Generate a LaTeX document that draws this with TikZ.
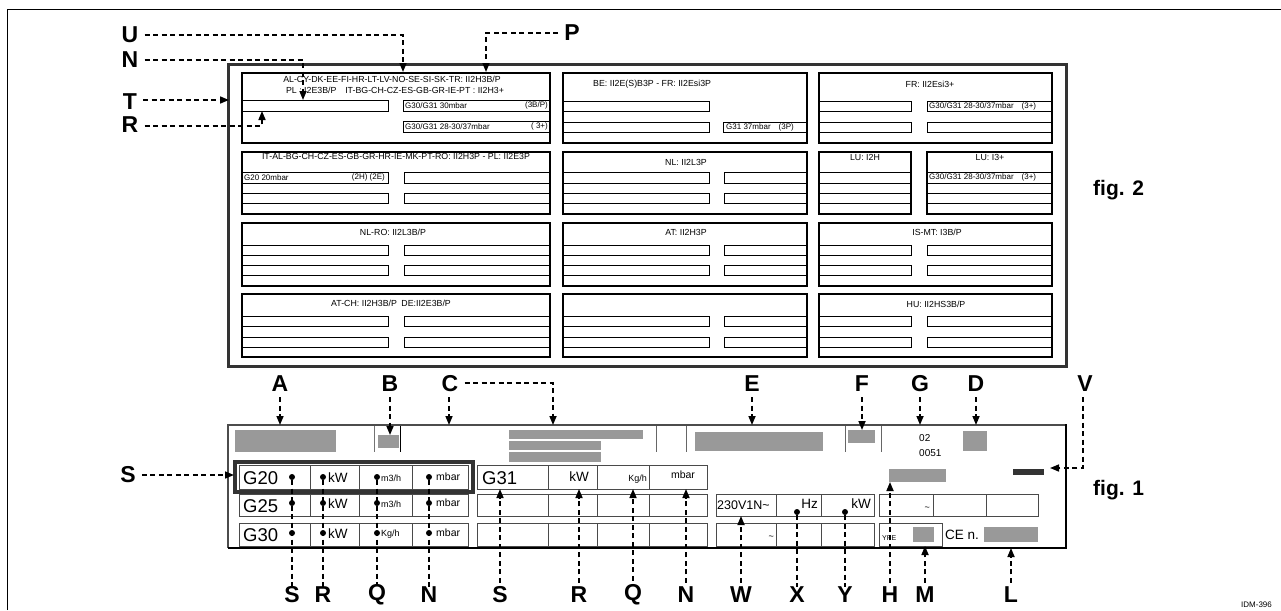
\documentclass[tikz,border=0pt]{standalone}
\usepackage{fontspec}
\setmainfont{Liberation Sans}
\usetikzlibrary{arrows.meta}
\definecolor{fillgray}{HTML}{999999}
\definecolor{framegray}{HTML}{333333}
\definecolor{cellgray}{HTML}{4A4A4A}
\tikzset{
  lbl/.style={font=\bfseries\fontsize{23}{23}\selectfont, inner sep=0pt},
  figlbl/.style={font=\bfseries\fontsize{21}{21}\selectfont, inner sep=0pt, anchor=west},
  dsh/.style={line width=1.6pt, dash pattern=on 5pt off 3.5pt},
  arr/.style={dsh, -{Triangle[length=9pt,width=7pt]}},
  bx/.style={line width=2.3pt},
  rl/.style={line width=1pt},
  cl/.style={line width=0.9pt, draw=cellgray},
  hdr/.style={font=\fontsize{8.8}{9}\selectfont, inner sep=0pt},
  small/.style={font=\fontsize{8}{9}\selectfont, inner sep=0pt},
  big/.style={font=\fontsize{18.5}{18.5}\selectfont, inner sep=0pt, anchor=west},
  mid/.style={font=\fontsize{13.5}{13.5}\selectfont, inner sep=0pt},
  tiny/.style={font=\fontsize{9}{9}\selectfont, inner sep=0pt},
  gbar/.style={fill=fillgray, draw=none},
  dot/.style={circle, fill=black, inner sep=0pt, minimum size=6pt},
}
\newcommand\lrect[4]{\draw[rl] (#1,#3) -| (#2,#4) -- (#1,#4);}
\newcommand\rrect[4]{\draw[rl] (#2,#3) -| (#1,#4) -- (#2,#4);}
\newcommand\frow[4]{\draw[rl] (#1,#3) -- (#2,#3) (#1,#4) -- (#2,#4);}
\begin{document}
\begin{tikzpicture}[x=1pt,y=-1pt]
\useasboundingbox (0,0) rectangle (1281,610);
% page frame
\draw[line width=1pt] (7,610) -- (7,10) -- (1281,10);

% ================= fig. 2 =================
\draw[line width=3pt, draw=framegray] (228,64) rectangle (1066,366);
% row 1
\draw[bx] (242,73) rectangle (550,143);
\draw[bx] (563,73) rectangle (807,143);
\draw[bx] (819,73) rectangle (1052,143);
\lrect{242}{388}{100}{111} \rrect{403}{550}{100}{111} \rrect{403}{550}{121}{132}
\lrect{563}{709}{101}{111} \lrect{563}{709}{122}{132} \rrect{723}{807}{122}{132}
\lrect{819}{911}{101}{111} \rrect{927}{1052}{101}{111} \lrect{819}{911}{122}{132} \rrect{927}{1052}{122}{132}
\node[hdr] (h11a) at (392,79) {AL-CY-DK-EE-FI-HR-LT-LV-NO-SE-SI-SK-TR: II2H3B/P};
\node[hdr] (h11b) at (395,90) {PL : I2E3B/P\quad IT-BG-CH-CZ-ES-GB-GR-IE-PT : II2H3+};
\node[small, anchor=west] (t11a) at (405,105.5) {G30/G31 30mbar};
\node[small, anchor=east] (t11b) at (548,105.5) {(3B/P)};
\node[small, anchor=west] (t11c) at (405,126.5) {G30/G31 28-30/37mbar};
\node[small, anchor=east] (t11d) at (548,126.5) {( 3+)};
\node[hdr, anchor=west] (h12) at (593,84) {BE: II2E(S)B3P - FR: II2Esi3P};
\node[small, anchor=west] (t12a) at (726,127) {G31 37mbar\quad (3P)};
\node[hdr] (h13) at (930,84) {FR: II2Esi3+};
\node[small, anchor=west] (t13a) at (929,106) {G30/G31 28-30/37mbar\quad (3+)};
% row 2
\draw[bx] (242,152) rectangle (550,214);
\draw[bx] (563,152) rectangle (807,214);
\draw[bx] (819,152) rectangle (911,214);
\draw[bx] (927,152) rectangle (1052,214);
\lrect{242}{388}{172}{183} \rrect{404}{550}{172}{183} \lrect{242}{388}{193}{203} \rrect{404}{550}{193}{203}
\lrect{563}{709}{172}{183} \rrect{724}{807}{172}{183} \lrect{563}{709}{193}{203} \rrect{724}{807}{193}{203}
\frow{819}{911}{172}{183} \frow{819}{911}{193}{203}
\frow{927}{1052}{172}{183} \frow{927}{1052}{193}{203}
\node[hdr] (h21) at (396,156.5) {IT-AL-BG-CH-CZ-ES-GB-GR-HR-IE-MK-PT-RO: II2H3P - PL: II2E3P};
\node[small, anchor=west] (t21a) at (244,177.5) {G20 20mbar};
\node[small, anchor=east] (t21b) at (385,177.5) {(2H) (2E)};
\node[hdr] (h22) at (686,162) {NL: II2L3P};
\node[hdr] (h23a) at (865,157.5) {LU: I2H};
\node[hdr] (h23b) at (990,157.5) {LU: I3+};
\node[small, anchor=west] (t23b) at (929,177.5) {G30/G31 28-30/37mbar\quad (3+)};
% row 3
\draw[bx] (242,223) rectangle (550,286);
\draw[bx] (563,223) rectangle (807,286);
\draw[bx] (819,223) rectangle (1052,286);
\foreach \a/\b in {245/255,265/275}{
  \lrect{242}{388}{\a}{\b} \rrect{404}{550}{\a}{\b}
  \lrect{563}{709}{\a}{\b} \rrect{724}{807}{\a}{\b}
  \lrect{819}{911}{\a}{\b} \rrect{927}{1052}{\a}{\b}}
\node[hdr] (h31) at (393,232) {NL-RO: II2L3B/P};
\node[hdr] (h32) at (686,232) {AT: II2H3P};
\node[hdr] (h33) at (937,232) {IS-MT: I3B/P};
% row 4
\draw[bx] (242,294) rectangle (550,357);
\draw[bx] (563,294) rectangle (807,357);
\draw[bx] (819,294) rectangle (1052,357);
\foreach \a/\b in {316/326,337/347}{
  \lrect{242}{388}{\a}{\b} \rrect{404}{550}{\a}{\b}
  \lrect{563}{709}{\a}{\b} \rrect{724}{807}{\a}{\b}
  \lrect{819}{911}{\a}{\b} \rrect{927}{1052}{\a}{\b}}
\node[hdr] (h41) at (391,303) {AT-CH: II2H3B/P\enspace DE:II2E3B/P};
\node[hdr] (h43) at (936,304) {HU: II2HS3B/P};

% labels fig 2
\node[lbl] (U) at (130,35) {U};
\node[lbl] (N1) at (130,60) {N};
\node[lbl] (T) at (130,102) {T};
\node[lbl] (R1) at (130,125) {R};
\node[lbl] (P) at (572,33) {P};
\coordinate (uT) at (403,72);
\coordinate (nT) at (303,100);
\coordinate (tT) at (229,100);
\coordinate (rT) at (262,111);
\coordinate (pT) at (486,72);
\draw[arr] (U.east) ++(6,0) -| (uT);
\draw[arr] (N1.east) ++(6,0) -| (nT);
\draw[arr] (T.east) ++(6,-2) -- (tT);
\draw[arr] (R1.east) ++(6,1) -| (rT);
\draw[arr] (P.west) ++(-6,0) -| (pT);
\node[figlbl] (fig2) at (1093,190) {fig. 2};

% ================= fig. 1 =================
% top strip
\fill[gbar] (235,430) rectangle (336,452);
\fill[gbar] (378,435) rectangle (399,448);
\fill[gbar] (509,430) rectangle (643,439);
\fill[gbar] (509,441) rectangle (601,450);
\fill[gbar] (509,452) rectangle (601,462);
\fill[gbar] (695,432) rectangle (823,451);
\fill[gbar] (848,430) rectangle (875,443);
\fill[gbar] (963,431) rectangle (987,451);
\fill[gbar] (889,469) rectangle (946,482);
\fill[framegray] (1013,469) rectangle (1044,475);
\draw[line width=1pt, draw=black!55] (374,425) -- (374,452);
\draw[line width=1pt] (400,425) -- (400,452);
\foreach \x in {656,686,845,881} \draw[line width=1pt, draw=black!60] (\x,425) -- (\x,452);
\node[tiny, font=\fontsize{10}{10}\selectfont, anchor=west] (n02) at (919,438) {02};
\node[tiny, font=\fontsize{10}{10}\selectfont, anchor=west] (n0051) at (919,453) {0051};

% G20 group
\foreach \a/\b in {465/489,494/516,523/546}{
  \draw[cl] (239,\a) rectangle (468,\b);
  \foreach \x in {310,359,412} \draw[cl] (\x,\a) -- (\x,\b);}
\draw[line width=3.5pt, draw=framegray] (235,462) rectangle (473,492);
% G31 group
\foreach \a/\b in {465/489,494/516,523/546}{
  \draw[cl] (477,\a) rectangle (707,\b);
  \foreach \x in {548,597,649} \draw[cl] (\x,\a) -- (\x,\b);}
% power group
\foreach \a/\b in {494/516,523/546}{
  \draw[cl] (716,\a) rectangle (874,\b);
  \foreach \x in {776,821} \draw[cl] (\x,\a) -- (\x,\b);}
% right group
\draw[cl] (879,494) rectangle (1038,516);
\foreach \x in {933,986} \draw[cl] (\x,494) -- (\x,516);
\draw[cl] (879,523) rectangle (942,546);
\fill[gbar] (913,527) rectangle (934,542);
\fill[gbar] (984,527) rectangle (1038,542);

% panel frame
\draw[line width=1.3pt, draw=black!70] (1066,425) -- (228,425) -- (228,548);
\draw[line width=2.2pt] (228,548) -- (1066,548) -- (1066,424);

% texts G20 group
\node[big] (g20) at (243,478) {G20};
\node[big] (g25) at (243,506) {G25};
\node[big] (g30) at (243,535) {G30};
\foreach \r/\y/\u in {1/477/m3\slash h,2/503/m3\slash h,3/533/Kg\slash h}{
  \node[mid, anchor=west] (kw\r) at (328,\y+1) {kW};
  \node[tiny, anchor=west] (fl\r) at (381,\y+1) {\u};
  \node[tiny, font=\fontsize{10.5}{10.5}\selectfont, anchor=west] (mb\r) at (436,\y) {mbar};
  \node[dot] (dS\r) at (292,\y) {};
  \node[dot] (dR\r) at (323,\y) {};
  \node[dot] (dQ\r) at (377,\y) {};
  \node[dot] (dN\r) at (429,\y) {};}
% G31 texts
\node[big] (g31) at (482,478) {G31};
\node[mid, anchor=east] (kw31) at (589,477) {kW};
\node[tiny, anchor=east] (kg31) at (647,479) {Kg/h};
\node[tiny, font=\fontsize{10.5}{10.5}\selectfont] (mb31) at (683,475) {mbar};
% power texts
\node[mid, font=\fontsize{12.5}{12.5}\selectfont, anchor=west] (volt) at (717,505) {230V1N\char"007E};
\node[mid, anchor=east] (hz) at (818,504) {Hz};
\node[mid, anchor=east] (kwp) at (871,504) {kW};
\node[dot] (dX) at (797,512) {};
\node[dot] (dY) at (845,512) {};
\node[tiny, anchor=east] (til1) at (774,538) {\char"007E};
\node[tiny, anchor=east] (til2) at (930,509) {\char"007E};
\node[font=\fontsize{7}{7}\selectfont, inner sep=0pt, anchor=west] (ype) at (882,538) {YPE};
\node[mid, anchor=west] (cen) at (945,535) {CE n.};

% fig 1 labels top
\node[lbl] (A) at (280,384) {A};
\node[lbl] (B) at (390,384) {B};
\node[lbl] (C) at (450,384) {C};
\node[lbl] (E) at (752,384) {E};
\node[lbl] (F) at (862,384) {F};
\node[lbl] (G) at (920,384) {G};
\node[lbl] (D) at (976,384) {D};
\node[lbl] (V) at (1085,384) {V};
\coordinate (aT) at (280,425);
\coordinate (bT) at (390,435);
\coordinate (cT1) at (449,425);
\coordinate (cT2) at (553,425);
\coordinate (eT) at (752,425);
\coordinate (fT) at (862,430);
\coordinate (gT) at (920,425);
\coordinate (dT) at (976,425);
\coordinate (vT) at (1050,468);
\draw[arr] (A.south) ++(0,5) -- (aT);
\draw[arr] (B.south) ++(0,5) -- (bT);
\draw[arr] (C.south) ++(-1,5) -- (cT1);
\draw[arr] (C.east) ++(6,-1) -| (cT2);
\draw[arr] (E.south) ++(0,5) -- (eT);
\draw[arr] (F.south) ++(0,5) -- (fT);
\draw[arr] (G.south) ++(0,5) -- (gT);
\draw[arr] (D.south) ++(0,5) -- (dT);
\draw[arr] (V.south) ++(-2,5) |- (vT);
\node[lbl] (S0) at (128,475) {S};
\draw[arr] (S0.east) ++(6,0) -- (234,475);
\node[figlbl] (fig1) at (1093,490) {fig. 1};

% bottom labels
\node[lbl] (S1) at (292,595) {S};
\node[lbl] (R2) at (323,595) {R};
\node[lbl] (Q1) at (377,595) {Q};
\node[lbl] (N2) at (429,595) {N};
\node[lbl] (S2) at (500,595) {S};
\node[lbl] (R3) at (579,595) {R};
\node[lbl] (Q2) at (633,595) {Q};
\node[lbl] (N3) at (686,595) {N};
\node[lbl] (W) at (741,595) {W};
\node[lbl] (X) at (797,595) {X};
\node[lbl] (Y) at (845,595) {Y};
\node[lbl] (H) at (890,595) {H};
\node[lbl] (M) at (925,595) {M};
\node[lbl] (L) at (1011,595) {L};
\draw[dsh] (dS1) -- (S1.north);
\draw[dsh] (dR1) -- (R2.north);
\draw[dsh] (dQ1) -- (Q1.north);
\draw[dsh] (dN1) -- (N2.north);
\draw[dsh] (dX) -- (X.north);
\draw[dsh] (dY) -- (Y.north);
\draw[arr] (S2.north) ++(0,-4) -- (500,489);
\draw[arr] (R3.north) ++(0,-4) -- (579,489);
\draw[arr] (Q2.north) ++(0,-4) -- (633,489);
\draw[arr] (N3.north) ++(0,-4) -- (686,489);
\draw[arr] (W.north) ++(0,-4) -- (741,516);
\draw[arr] (H.north) ++(0,-4) -- (890,482);
\draw[arr] (M.north) ++(0,-4) -- (925,546);
\draw[arr] (L.north) ++(0,-4) -- (1011,548);

\node[font=\fontsize{8}{8}\selectfont, inner sep=0pt, anchor=west] (idm) at (1241,605) {IDM-396};
\end{tikzpicture}
\end{document}
